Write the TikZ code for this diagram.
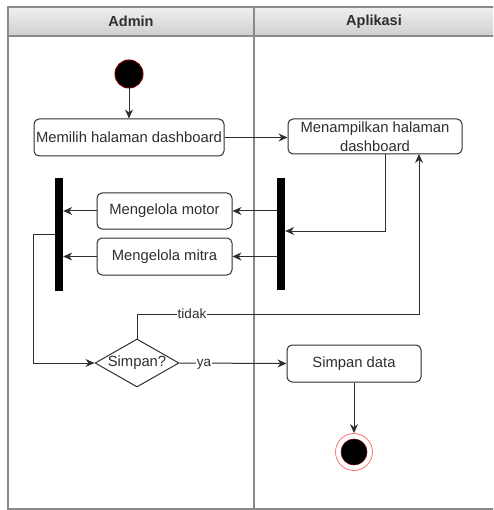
\documentclass[tikz,border=0pt]{standalone}
\usepackage{fontspec}
\setmainfont{Liberation Sans}
\usetikzlibrary{shapes.geometric,arrows.meta,calc}
\definecolor{ink}{HTML}{2E2E2E}
\definecolor{lane}{HTML}{8A8A8A}
\begin{document}
\begin{tikzpicture}[x=1pt,y=-1pt,
  every node/.style={font=\fontsize{14.8}{18}\selectfont, text=ink},
  act/.style={draw=ink, line width=1pt, rounded corners=5pt, fill=white, align=center, inner sep=0pt},
  bar/.style={fill=black, draw=none, inner sep=0pt, minimum width=8pt, minimum height=112pt},
  flow/.style={draw=ink, line width=1pt, -{Stealth[length=9pt,width=8pt]}},
  lbl/.style={fill=white, inner sep=1pt, font=\fontsize{13.5}{16}\selectfont},
  decision/.style={diamond, draw=ink, line width=1pt, aspect=1.75, inner sep=0pt, minimum width=84pt, minimum height=48pt}]
\useasboundingbox (0,0) rectangle (493,510);
\begin{scope}
\clip (0,0) rectangle (493,510);
% swimlane header and frame
\shade[top color=gray!12, bottom color=gray!38] (8,7) rectangle (497,36);
\draw[lane, line width=1.2pt] (8,7) rectangle (497,509);
\draw[lane, line width=1.2pt] (8,36) -- (497,36);
\draw[lane, line width=1.2pt] (254,7) -- (254,509);
\end{scope}
\node[font=\bfseries\fontsize{14.5}{17}\selectfont] (hadmin) at (131,21.5) {Admin};
\node[font=\bfseries\fontsize{14.5}{17}\selectfont] (happ) at (374,21.5) {Aplikasi};

% activity nodes
\node[circle, fill=black, draw=red!45!black, line width=1pt, minimum size=28pt, inner sep=0pt] (start) at (129,74) {};
\node[act, minimum width=190pt, minimum height=37pt] (pilih) at (129,137.5) {Memilih halaman dashboard};
\node[act, minimum width=174pt, minimum height=35pt, font=\fontsize{14.8}{18.5}\selectfont] (tampil) at (375,136.5) {Menampilkan halaman\\dashboard};
\node[bar] (rbar) at (281,234) {};
\node[bar] (lbar) at (59,234.5) {};
\node[act, minimum width=135pt, minimum height=36pt] (motor) at (164.5,211) {Mengelola motor};
\node[act, minimum width=135pt, minimum height=37pt] (mitra) at (164.5,256.5) {Mengelola mitra};
\node[decision] (simpanq) at (137,363) {Simpan?};
\node[act, minimum width=134pt, minimum height=37pt] (simpan) at (354,363.5) {Simpan data};
\node[circle, draw=red!55!white, line width=0.8pt, fill=white, minimum size=37pt, inner sep=0pt] (end) at (354,452) {};
\node[circle, fill=black, draw=red!40!black, line width=0.6pt, minimum size=26pt, inner sep=0pt] (endcore) at (end.center) {};

% control flow
\coordinate (tampilB) at (385,154);
\coordinate (tidakB) at (419,154);
\coordinate (join) at (55,234);
\draw[flow] (start) -- (pilih);
\draw[flow] (pilih.east) -- (pilih.east -| tampil.west);
\draw[flow] (tampilB) |- (rbar.east |- 0,231);
\draw[flow] (rbar.west |- motor.east) -- (motor.east);
\draw[flow] (rbar.west |- mitra.east) -- (mitra.east);
\draw[flow] (motor.west) -- (lbar.east |- motor.west);
\draw[flow] (mitra.west) -- (lbar.east |- mitra.west);
\draw[flow] (join) -- (33,234) |- (simpanq.west);
\draw[flow] (simpanq.north) -- (137,314) -- (419,314) -- (tidakB);
\node[lbl] (ltidak) at (192,314) {tidak};
\draw[flow] (simpanq.east) -- (simpan.west);
\node[lbl] (lya) at (204,364) {ya};
\draw[flow] (simpan.south) -- (end.north);
\end{tikzpicture}
\end{document}
